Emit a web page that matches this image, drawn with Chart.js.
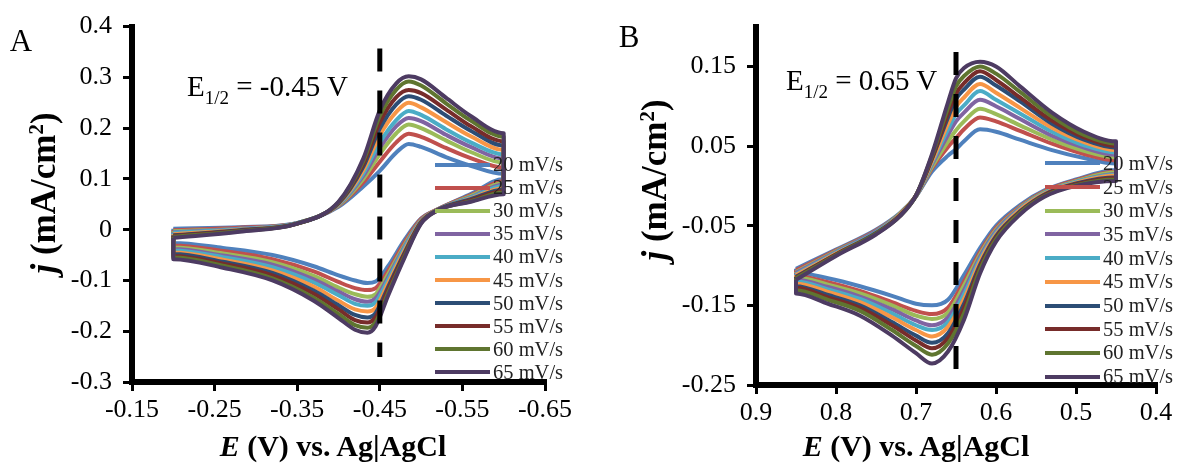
<!DOCTYPE html>
<html><head><meta charset="utf-8">
<script src="https://cdn.jsdelivr.net/npm/chart.js@4.4.1/dist/chart.umd.min.js"></script>
<style>
html,body{margin:0;padding:0;background:#fff;}
#wrap{position:relative;width:1178px;height:465px;overflow:hidden;font-family:'Liberation Serif','Times New Roman',serif;color:#000;}
canvas{position:absolute;top:0;}
.t{position:absolute;white-space:nowrap;line-height:1;}
.ytitle{font-weight:bold;font-size:35px;transform:translate(-50%,-50%) rotate(-90deg);}
.xtitle{font-weight:bold;font-size:30px;transform:translate(-50%,-50%);}
.sup{font-size:0.6em;position:relative;top:-0.55em;}
.e12{font-size:29px;}
.sub{font-size:19px;position:relative;top:8px;}
.panel{font-size:31px;transform:translate(-50%,-50%);}
.lg{position:absolute;height:24px;display:flex;align-items:center;font-size:20.5px;white-space:nowrap;color:#222;}
.lg i{display:inline-block;width:55px;height:4px;margin-right:3px;}
</style></head>
<body><div id="wrap">
<canvas id="cA" width="590" height="465" style="left:0"></canvas>
<canvas id="cB" width="588" height="465" style="left:590px"></canvas>
<div class="t panel" style="left:21px;top:40px">A</div>
<div class="t panel" style="left:629px;top:36px">B</div>
<div class="t e12" style="left:187px;top:72px">E<span class="sub">1/2</span> = -0.45 V</div>
<div class="t e12" style="left:786px;top:66px">E<span class="sub">1/2</span> = 0.65 V</div>
<div class="t ytitle" style="left:43px;top:193px"><i>j</i> (mA/cm<span class="sup">2</span>)</div>
<div class="t ytitle" style="left:654px;top:180px"><i>j</i> (mA/cm<span class="sup">2</span>)</div>
<div class="t xtitle" style="left:333px;top:446px"><i>E</i> (V) vs. Ag|AgCl</div>
<div class="t xtitle" style="left:916px;top:446px"><i>E</i> (V) vs. Ag|AgCl</div>
</div>
<script>
// ---------- data ----------
const scanRates = ['20 mV/s','25 mV/s','30 mV/s','35 mV/s','40 mV/s','45 mV/s','50 mV/s','55 mV/s','60 mV/s','65 mV/s'];
const colors = ['#4F81BD','#C0504D','#9BBB59','#8064A2','#4BACC6','#F79646','#2C4D75','#772C2A','#5F7530','#4D3B62'];

// Panel A: potential (V) and current density (mA/cm2) per scan rate
const potentialA = [-0.20,-0.28,-0.35,-0.40,-0.43,-0.45,-0.47,-0.485,-0.50,-0.53,-0.56,-0.60,
                    -0.60,-0.56,-0.52,-0.50,-0.48,-0.46,-0.445,-0.435,-0.42,-0.40,-0.37,-0.32,-0.26,-0.20];
const jA20 = [0.002,0.005,0.013,0.045,0.085,0.116,0.152,0.169,0.163,0.143,0.126,0.110, 0.100,0.070,0.040,0.022,-0.020,-0.072,-0.102,-0.105,-0.100,-0.090,-0.072,-0.050,-0.036,-0.026];
const jA25 = [-0.001,0.004,0.013,0.047,0.093,0.134,0.172,0.189,0.183,0.161,0.141,0.122, 0.096,0.068,0.040,0.021,-0.025,-0.081,-0.115,-0.119,-0.115,-0.103,-0.082,-0.058,-0.042,-0.031];
const jA30 = [-0.003,0.002,0.013,0.048,0.100,0.149,0.190,0.207,0.200,0.176,0.153,0.132, 0.092,0.066,0.039,0.019,-0.030,-0.088,-0.127,-0.132,-0.127,-0.114,-0.091,-0.064,-0.047,-0.035];
const jA35 = [-0.005,0.002,0.013,0.049,0.106,0.161,0.204,0.220,0.214,0.187,0.163,0.140, 0.089,0.064,0.039,0.018,-0.033,-0.094,-0.135,-0.142,-0.137,-0.122,-0.098,-0.069,-0.051,-0.038];
const jA40 = [-0.006,0.001,0.013,0.050,0.111,0.172,0.216,0.234,0.226,0.198,0.172,0.148, 0.086,0.063,0.039,0.017,-0.036,-0.099,-0.143,-0.150,-0.146,-0.129,-0.104,-0.074,-0.054,-0.041];
const jA45 = [-0.009,0.000,0.012,0.051,0.117,0.186,0.232,0.250,0.241,0.212,0.184,0.157, 0.082,0.061,0.039,0.016,-0.041,-0.106,-0.154,-0.161,-0.157,-0.140,-0.112,-0.080,-0.059,-0.045];
const jA50 = [-0.011,-0.001,0.012,0.052,0.124,0.199,0.247,0.263,0.256,0.225,0.195,0.166, 0.079,0.060,0.039,0.015,-0.045,-0.113,-0.164,-0.173,-0.168,-0.149,-0.120,-0.085,-0.063,-0.048];
const jA55 = [-0.012,-0.002,0.012,0.053,0.129,0.211,0.261,0.275,0.269,0.237,0.204,0.174, 0.076,0.058,0.038,0.014,-0.048,-0.118,-0.172,-0.183,-0.178,-0.157,-0.126,-0.090,-0.067,-0.052];
const jA60 = [-0.014,-0.003,0.012,0.054,0.135,0.224,0.276,0.292,0.284,0.249,0.215,0.183, 0.073,0.056,0.038,0.013,-0.052,-0.125,-0.182,-0.193,-0.188,-0.166,-0.134,-0.096,-0.071,-0.055];
const jA65 = [-0.016,-0.004,0.012,0.055,0.140,0.235,0.288,0.302,0.296,0.260,0.224,0.190, 0.070,0.055,0.038,0.012,-0.055,-0.130,-0.190,-0.203,-0.197,-0.174,-0.140,-0.100,-0.075,-0.058];

// Panel B
const potentialB = [0.85,0.80,0.75,0.72,0.70,0.68,0.66,0.65,0.64,0.62,0.60,0.57,0.53,0.49,0.45,
                    0.45,0.50,0.54,0.57,0.60,0.62,0.64,0.66,0.68,0.70,0.73,0.77,0.81,0.85];
const jB20 = [-0.104,-0.080,-0.055,-0.034,-0.013,0.018,0.038,0.046,0.056,0.071,0.068,0.058,0.045,0.035,0.028, 0.020,0.008,-0.006,-0.024,-0.050,-0.078,-0.112,-0.143,-0.150,-0.148,-0.138,-0.126,-0.116,-0.109];
const jB25 = [-0.106,-0.081,-0.056,-0.035,-0.013,0.022,0.049,0.060,0.071,0.086,0.081,0.069,0.053,0.040,0.032, 0.018,0.007,-0.007,-0.026,-0.053,-0.083,-0.120,-0.153,-0.161,-0.157,-0.146,-0.132,-0.121,-0.113];
const jB30 = [-0.108,-0.082,-0.057,-0.035,-0.013,0.024,0.056,0.070,0.081,0.097,0.090,0.076,0.058,0.044,0.036, 0.017,0.006,-0.008,-0.027,-0.055,-0.086,-0.125,-0.159,-0.167,-0.163,-0.150,-0.135,-0.124,-0.115];
const jB35 = [-0.109,-0.083,-0.057,-0.036,-0.013,0.027,0.064,0.081,0.092,0.108,0.100,0.084,0.063,0.048,0.039, 0.015,0.005,-0.009,-0.028,-0.057,-0.089,-0.131,-0.165,-0.175,-0.169,-0.155,-0.139,-0.127,-0.118];
const jB40 = [-0.111,-0.084,-0.058,-0.036,-0.013,0.029,0.071,0.090,0.101,0.119,0.108,0.091,0.068,0.051,0.042, 0.014,0.005,-0.009,-0.029,-0.059,-0.092,-0.136,-0.171,-0.181,-0.175,-0.160,-0.142,-0.130,-0.120];
const jB45 = [-0.112,-0.085,-0.059,-0.036,-0.012,0.031,0.078,0.099,0.111,0.128,0.117,0.098,0.073,0.055,0.045, 0.013,0.004,-0.010,-0.030,-0.061,-0.095,-0.142,-0.177,-0.189,-0.181,-0.165,-0.146,-0.133,-0.123];
const jB50 = [-0.114,-0.086,-0.059,-0.037,-0.012,0.034,0.086,0.109,0.121,0.137,0.126,0.106,0.078,0.058,0.048, 0.011,0.003,-0.011,-0.032,-0.063,-0.099,-0.148,-0.185,-0.197,-0.188,-0.171,-0.150,-0.137,-0.126];
const jB55 = [-0.115,-0.086,-0.060,-0.037,-0.012,0.035,0.091,0.116,0.129,0.144,0.133,0.111,0.082,0.061,0.050, 0.010,0.002,-0.012,-0.033,-0.065,-0.102,-0.153,-0.191,-0.204,-0.194,-0.175,-0.153,-0.140,-0.128];
const jB60 = [-0.116,-0.087,-0.060,-0.038,-0.012,0.038,0.098,0.125,0.138,0.150,0.141,0.118,0.087,0.064,0.053, 0.008,0.001,-0.013,-0.034,-0.067,-0.105,-0.160,-0.198,-0.212,-0.201,-0.181,-0.157,-0.143,-0.131];
const jB65 = [-0.118,-0.088,-0.061,-0.038,-0.012,0.040,0.105,0.135,0.148,0.156,0.150,0.125,0.092,0.068,0.056, 0.006,0.000,-0.014,-0.036,-0.070,-0.110,-0.168,-0.208,-0.223,-0.210,-0.188,-0.163,-0.148,-0.135];

// E1/2 marker lines
const halfWaveA = -0.45, halfWaveLineA = [0.357, -0.251];
const halfWaveB = 0.65,  halfWaveLineB = [0.168, -0.230];

// ticks
const xTicksA = [-0.15,-0.25,-0.35,-0.45,-0.55,-0.65];
const xLabelsA = ['-0.15','-0.25','-0.35','-0.45','-0.55','-0.65'];
const yTicksA = [0.4,0.3,0.2,0.1,0,-0.1,-0.2,-0.3];
const yLabelsA = ['0.4','0.3','0.2','0.1','0','-0.1','-0.2','-0.3'];
const xTicksB = [0.9,0.8,0.7,0.6,0.5,0.4];
const xLabelsB = ['0.9','0.8','0.7','0.6','0.5','0.4'];
const yTicksB = [0.15,0.05,-0.05,-0.15,-0.25];
const yLabelsB = ['0.15','0.05','-0.05','-0.15','-0.25'];

// ---------- drawing ----------
const tickFont = {family:"'Liberation Serif','Times New Roman',serif", size:26};

function labelFor(ticks, labels){
  return v => { const i = ticks.findIndex(t => Math.abs(t - v) < 1e-9); return i >= 0 ? labels[i] : ''; };
}

function makePanel(id, potentials, series, halfE, halfLine, cfg){
  const datasets = series.map((vals, k) => {
    const pts = potentials.map((e, i) => ({x: e, y: vals[i]}));
    pts.push(pts[0]);
    return {label: scanRates[k], data: pts, borderColor: colors[k], borderWidth: 4,
            pointRadius: 0, cubicInterpolationMode: 'monotone', fill: false, order: 20 - k, borderJoinStyle:'round'};
  });
  datasets.push({label:'E1/2', data: halfLine.map(v => ({x: halfE, y: v})), borderColor:'#000',
                 borderWidth:5, borderDash:[23,19], pointRadius:0, tension:0, fill:false, order:0});
  const axisCommon = {
    grid:{drawOnChartArea:false, drawTicks:true, tickLength:9, lineWidth:3, color:'#000'},
    border:{display:true, width:6, color:'#000'}
  };
  return new Chart(document.getElementById(id), {
    type:'line',
    data:{datasets},
    options:{
      responsive:false, animation:false, devicePixelRatio:1,
      layout:{padding:cfg.pad},
      plugins:{legend:{display:false}, tooltip:{enabled:false}},
      scales:{
        x:Object.assign({}, axisCommon, {
          type:'linear', min:cfg.xMin, max:cfg.xMax, reverse:true,
          afterBuildTicks: s => { s.ticks = cfg.xTicks.map(v => ({value:v})); },
          afterFit: s => { s.height = cfg.xH; },
          ticks:{callback: labelFor(cfg.xTicks, cfg.xLabels), font:tickFont, color:'#000', padding:4, maxRotation:0, autoSkip:false}
        }),
        y:Object.assign({}, axisCommon, {
          type:'linear', min:cfg.yMin, max:cfg.yMax,
          afterBuildTicks: s => { s.ticks = cfg.yTicks.map(v => ({value:v})); },
          afterFit: s => { s.width = cfg.yW; },
          ticks:{callback: labelFor(cfg.yTicks, cfg.yLabels), font:tickFont, color:'#000', padding:11, autoSkip:false}
        })
      }
    }
  });
}

makePanel('cA', potentialA, [jA20,jA25,jA30,jA35,jA40,jA45,jA50,jA55,jA60,jA65], halfWaveA, halfWaveLineA, {
  pad:{left:0, top:25, right:45, bottom:0}, xH:83, yW:132,
  xMin:-0.65, xMax:-0.15, yMin:-0.3, yMax:0.4,
  xTicks:xTicksA, xLabels:xLabelsA, yTicks:yTicksA, yLabels:yLabelsA
});
makePanel('cB', potentialB, [jB20,jB25,jB30,jB35,jB40,jB45,jB50,jB55,jB60,jB65], halfWaveB, halfWaveLineB, {
  pad:{left:0, top:21, right:22, bottom:0}, xH:80, yW:166,
  xMin:0.4, xMax:0.9, yMin:-0.25, yMax:0.2,
  xTicks:xTicksB, xLabels:xLabelsB, yTicks:yTicksB, yLabels:yLabelsB
});

// legends (HTML overlay)
function legend(left, top0, step){
  const wrap = document.getElementById('wrap');
  scanRates.forEach((name, k) => {
    const d = document.createElement('div');
    d.className = 'lg';
    d.style.left = left + 'px';
    d.style.top = (top0 + k * step - 12) + 'px';
    d.innerHTML = '<i style="background:' + colors[k] + '"></i>' + name;
    wrap.appendChild(d);
  });
}
legend(435, 164.5, 23.1);
legend(1045, 163.3, 23.7);
</script>
</body></html>
